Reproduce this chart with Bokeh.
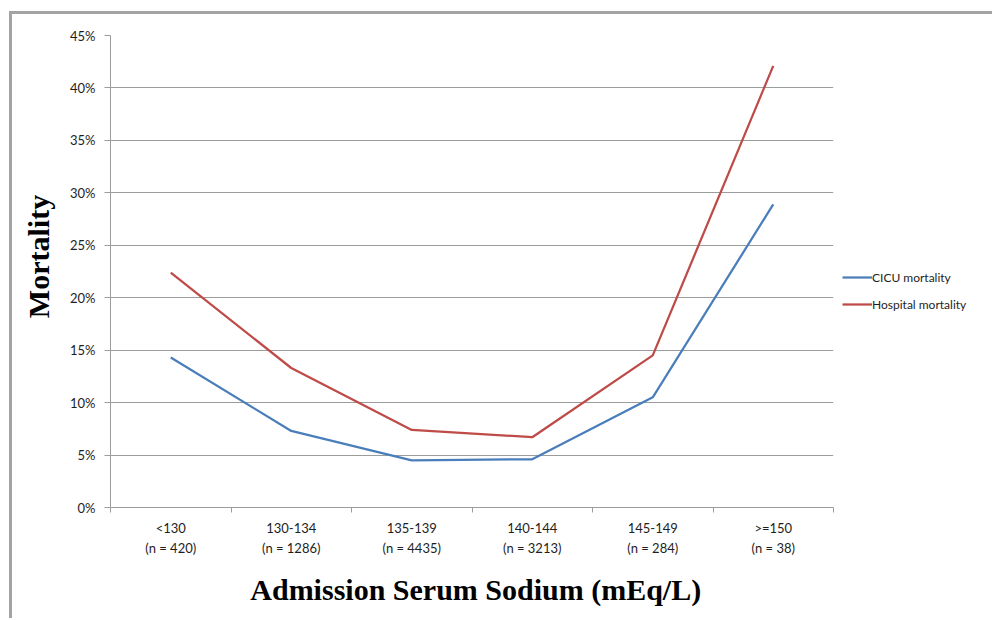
from bokeh.plotting import figure
from bokeh.models import FixedTicker, LinearAxis, Range1d, Legend, LegendItem
from bokeh.embed import file_html
from bokeh.resources import INLINE

categories = ["<130", "130-134", "135-139", "140-144", "145-149", ">=150"]
counts = ["(n = 420)", "(n = 1286)", "(n = 4435)", "(n = 3213)", "(n = 284)", "(n = 38)"]
cicu_mortality = [14.3, 7.3, 4.5, 4.6, 10.5, 28.9]
hospital_mortality = [22.4, 13.3, 7.4, 6.7, 14.5, 42.1]
y_ticks = [0, 5, 10, 15, 20, 25, 30, 35, 40, 45]

xs = [i + 0.5 for i in range(len(categories))]
bounds = list(range(len(categories) + 1))

GRID = "#9c9c9c"
TEXT = "#1e1e1e"
TICK_FONT = "Lato"
TITLE_FONT = "Liberation Serif"

p = figure(frame_width=723, frame_height=472,
           x_range=Range1d(0, len(categories)), y_range=Range1d(0, 45),
           output_backend="svg", toolbar_location=None,
           min_border_left=98, min_border_top=21, min_border_bottom=111,
           min_border_right=0)
p.outline_line_color = None
p.styles = {"border-top": "3px solid #a3a3a3", "border-left": "3px solid #a3a3a3",
            "margin-top": "11px", "margin-left": "9px"}

# y axis
ya = p.yaxis[0]
ya.ticker = FixedTicker(ticks=y_ticks, minor_ticks=[])
ya.major_label_overrides = {t: f"{t}%" for t in y_ticks}
ya.axis_line_color = GRID
ya.major_tick_line_color = GRID
ya.major_tick_out = 6
ya.major_tick_in = 0
ya.minor_tick_line_color = None
ya.major_label_standoff = 9
ya.major_label_text_font = TICK_FONT
ya.major_label_text_font_size = "13px"
ya.major_label_text_color = TEXT
# leading no-break spaces nudge the rotated title a little above the frame centre
ya.axis_label = "\u00a0\u00a0\u00a0\u00a0Mortality"
ya.axis_label_text_font = TITLE_FONT
ya.axis_label_text_font_style = "bold"
ya.axis_label_text_font_size = "30px"
ya.axis_label_text_color = "#000000"
ya.axis_label_standoff = 12

p.ygrid.ticker = FixedTicker(ticks=y_ticks, minor_ticks=[])
p.ygrid.grid_line_color = GRID
p.xgrid.grid_line_color = None

# x axis: category names, boundary ticks
xa = p.xaxis[0]
xa.ticker = FixedTicker(ticks=xs, minor_ticks=bounds)
xa.major_label_overrides = {x: c for x, c in zip(xs, categories)}
xa.axis_line_color = GRID
xa.major_tick_line_color = None
xa.major_tick_in = 0
xa.major_tick_out = 0
xa.minor_tick_line_color = GRID
xa.minor_tick_in = 0
xa.minor_tick_out = 5
xa.major_label_standoff = 7
xa.major_label_text_font = TICK_FONT
xa.major_label_text_font_size = "13px"
xa.major_label_text_color = TEXT

# second line of x labels (counts) + title
xb = LinearAxis(ticker=FixedTicker(ticks=xs, minor_ticks=[]))
xb.major_label_overrides = {x: c for x, c in zip(xs, counts)}
xb.axis_line_color = None
xb.major_tick_line_color = None
xb.minor_tick_line_color = None
xb.major_tick_in = 0
xb.major_tick_out = 0
xb.major_label_standoff = 1
xb.major_label_text_font = TICK_FONT
xb.major_label_text_font_size = "13px"
xb.major_label_text_color = TEXT
xb.axis_label = "\u00a0Admission Serum Sodium (mEq/L)"
xb.axis_label_text_font = TITLE_FONT
xb.axis_label_text_font_style = "bold"
xb.axis_label_text_font_size = "30px"
xb.axis_label_text_color = "#000000"
xb.axis_label_standoff = 14
p.add_layout(xb, "below")

r1 = p.line(xs, cicu_mortality, line_color="#4A7EBB", line_width=2.25)
r2 = p.line(xs, hospital_mortality, line_color="#BE4B48", line_width=2.25)

legend = Legend(items=[LegendItem(label="CICU mortality", renderers=[r1]),
                       LegendItem(label="Hospital mortality", renderers=[r2])],
                location=(9, 193), border_line_color=None,
                background_fill_alpha=0, padding=0, margin=0, spacing=7,
                glyph_width=30, glyph_height=20, label_height=20,
                label_standoff=0, label_text_font=TICK_FONT,
                label_text_font_size="12px", label_text_color=TEXT)
p.add_layout(legend, "right")

open("out.html", "w").write(file_html(p, INLINE))
